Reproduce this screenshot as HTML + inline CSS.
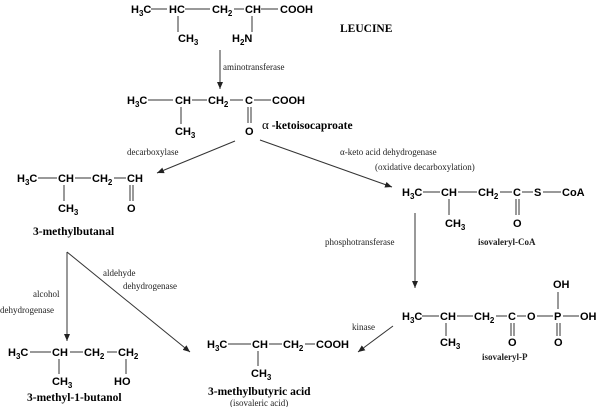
<!DOCTYPE html>
<html><head><meta charset="utf-8"><style>
html,body{margin:0;padding:0;background:#fff;}
svg{display:block;}
.c{font-family:"Liberation Sans",sans-serif;font-weight:bold;font-size:11px;fill:#000;}
.l{font-family:"Liberation Serif",serif;font-size:9px;fill:#222;}
.n{font-family:"Liberation Serif",serif;font-weight:bold;font-size:11.5px;fill:#000;}
line{stroke:#333;stroke-width:1;}
</style></head><body>
<svg width="600" height="407" viewBox="0 0 600 407" xmlns="http://www.w3.org/2000/svg">
<defs><marker id="a" markerWidth="8" markerHeight="8" refX="7" refY="4" orient="auto" markerUnits="userSpaceOnUse"><path d="M0,1 L7,4 L0,7 Z" fill="#222"/></marker></defs>

<text class="c" x="131" y="13">H<tspan font-size="8" dy="3">3</tspan><tspan dy="-3">C</tspan></text>
<line x1="151" y1="9" x2="167" y2="9"/>
<text class="c" x="169" y="13">HC</text>
<line x1="185" y1="9" x2="210" y2="9"/>
<text class="c" x="212" y="13">CH<tspan font-size="8" dy="3">2</tspan></text>
<line x1="234" y1="9" x2="244" y2="9"/>
<text class="c" x="245" y="13">CH</text>
<line x1="261" y1="9" x2="278" y2="9"/>
<text class="c" x="280" y="13">COOH</text>
<line x1="178" y1="16" x2="178" y2="32"/>
<text class="c" x="178" y="42">CH<tspan font-size="8" dy="3">3</tspan></text>
<line x1="252" y1="16" x2="252" y2="32"/>
<text class="c" x="232" y="42">H<tspan font-size="8" dy="3">2</tspan><tspan dy="-3">N</tspan></text>
<text class="n" x="340" y="32">LEUCINE</text>

<line x1="220" y1="50" x2="220" y2="89" marker-end="url(#a)"/>
<text class="l" x="223" y="70">aminotransferase</text>

<text class="c" x="127" y="104">H<tspan font-size="8" dy="3">3</tspan><tspan dy="-3">C</tspan></text>
<line x1="148" y1="100" x2="173" y2="100"/>
<text class="c" x="175" y="104">CH</text>
<line x1="192" y1="100" x2="207" y2="100"/>
<text class="c" x="208" y="104">CH<tspan font-size="8" dy="3">2</tspan></text>
<line x1="230" y1="100" x2="243" y2="100"/>
<text class="c" x="245" y="104">C</text>
<line x1="254" y1="100" x2="271" y2="100"/>
<text class="c" x="272" y="104">COOH</text>
<line x1="181" y1="107" x2="181" y2="124"/>
<text class="c" x="175" y="135">CH<tspan font-size="8" dy="3">3</tspan></text>
<line x1="248" y1="107" x2="248" y2="123"/><line x1="251" y1="107" x2="251" y2="123"/>
<text class="c" x="245" y="135">O</text>
<text class="n" x="262" y="129" font-size="11"><tspan font-family="Liberation Serif" font-weight="normal" font-size="13">α</tspan> -ketoisocaproate</text>

<line x1="235" y1="141" x2="157" y2="173" marker-end="url(#a)"/>
<text class="l" x="127" y="155">decarboxylase</text>
<line x1="260" y1="140" x2="392" y2="187" marker-end="url(#a)"/>
<text class="l" x="340" y="155">α-keto acid dehydrogenase</text>
<text class="l" x="375" y="170">(oxidative decarboxylation)</text>

<text class="c" x="17" y="182">H<tspan font-size="8" dy="3">3</tspan><tspan dy="-3">C</tspan></text>
<line x1="38" y1="178" x2="57" y2="178"/>
<text class="c" x="58" y="182">CH</text>
<line x1="75" y1="178" x2="91" y2="178"/>
<text class="c" x="92" y="182">CH<tspan font-size="8" dy="3">2</tspan></text>
<line x1="114" y1="178" x2="126" y2="178"/>
<text class="c" x="127" y="182">CH</text>
<line x1="64" y1="185" x2="64" y2="201"/>
<text class="c" x="58" y="212">CH<tspan font-size="8" dy="3">3</tspan></text>
<line x1="130" y1="185" x2="130" y2="201"/><line x1="133" y1="185" x2="133" y2="201"/>
<text class="c" x="127" y="212">O</text>
<text class="n" x="33" y="235">3-methylbutanal</text>

<text class="c" x="402" y="196">H<tspan font-size="8" dy="3">3</tspan><tspan dy="-3">C</tspan></text>
<line x1="423" y1="192" x2="440" y2="192"/>
<text class="c" x="441" y="196">CH</text>
<line x1="458" y1="192" x2="477" y2="192"/>
<text class="c" x="478" y="196">CH<tspan font-size="8" dy="3">2</tspan></text>
<line x1="500" y1="192" x2="512" y2="192"/>
<text class="c" x="513" y="196">C</text>
<line x1="522" y1="192" x2="533" y2="192"/>
<text class="c" x="534" y="196">S</text>
<line x1="543" y1="192" x2="561" y2="192"/>
<text class="c" x="562" y="196">CoA</text>
<line x1="449" y1="199" x2="449" y2="215"/>
<text class="c" x="445" y="227">CH<tspan font-size="8" dy="3">3</tspan></text>
<line x1="516" y1="199" x2="516" y2="215"/><line x1="519" y1="199" x2="519" y2="215"/>
<text class="c" x="513" y="227">O</text>
<text class="l" x="478" y="245" font-size="10" font-weight="bold">isovaleryl-CoA</text>

<line x1="415" y1="213" x2="415" y2="288" marker-end="url(#a)"/>
<text class="l" x="325" y="245">phosphotransferase</text>

<text class="c" x="402" y="320">H<tspan font-size="8" dy="3">3</tspan><tspan dy="-3">C</tspan></text>
<line x1="422" y1="316" x2="439" y2="316"/>
<text class="c" x="440" y="320">CH</text>
<line x1="457" y1="316" x2="473" y2="316"/>
<text class="c" x="474" y="320">CH<tspan font-size="8" dy="3">2</tspan></text>
<line x1="496" y1="316" x2="507" y2="316"/>
<text class="c" x="508" y="320">C</text>
<line x1="517" y1="316" x2="526" y2="316"/>
<text class="c" x="527" y="320">O</text>
<line x1="537" y1="316" x2="553" y2="316"/>
<text class="c" x="554" y="320">P</text>
<line x1="563" y1="316" x2="579" y2="316"/>
<text class="c" x="580" y="320">OH</text>
<line x1="558" y1="292" x2="558" y2="309"/>
<text class="c" x="553" y="288">OH</text>
<line x1="446" y1="323" x2="446" y2="336"/>
<text class="c" x="440" y="346">CH<tspan font-size="8" dy="3">3</tspan></text>
<line x1="511" y1="323" x2="511" y2="336"/><line x1="514" y1="323" x2="514" y2="336"/>
<text class="c" x="508" y="346">O</text>
<line x1="557" y1="323" x2="557" y2="336"/><line x1="560" y1="323" x2="560" y2="336"/>
<text class="c" x="554" y="346">O</text>
<text class="l" x="482" y="360" font-size="10" font-weight="bold">isovaleryl-P</text>

<line x1="393" y1="326" x2="358" y2="352" marker-end="url(#a)"/>
<text class="l" x="352" y="330">kinase</text>

<text class="c" x="207" y="348">H<tspan font-size="8" dy="3">3</tspan><tspan dy="-3">C</tspan></text>
<line x1="228" y1="344" x2="251" y2="344"/>
<text class="c" x="252" y="348">CH</text>
<line x1="269" y1="344" x2="282" y2="344"/>
<text class="c" x="283" y="348">CH<tspan font-size="8" dy="3">2</tspan></text>
<line x1="305" y1="344" x2="315" y2="344"/>
<text class="c" x="316" y="348">COOH</text>
<line x1="258" y1="351" x2="258" y2="366"/>
<text class="c" x="251" y="377">CH<tspan font-size="8" dy="3">3</tspan></text>
<text class="n" x="208" y="395">3-methylbutyric acid</text>
<text class="l" x="230" y="406" font-size="9.5">(isovaleric acid)</text>

<line x1="67" y1="252" x2="67" y2="341" marker-end="url(#a)"/>
<line x1="67" y1="252" x2="190" y2="352" marker-end="url(#a)"/>
<text class="l" x="103" y="276">aldehyde</text>
<text class="l" x="123" y="289">dehydrogenase</text>
<text class="l" x="33" y="297">alcohol</text>
<text class="l" x="0" y="313">dehydrogenase</text>

<text class="c" x="8" y="356">H<tspan font-size="8" dy="3">3</tspan><tspan dy="-3">C</tspan></text>
<line x1="30" y1="352" x2="51" y2="352"/>
<text class="c" x="52" y="356">CH</text>
<line x1="70" y1="352" x2="83" y2="352"/>
<text class="c" x="84" y="356">CH<tspan font-size="8" dy="3">2</tspan></text>
<line x1="107" y1="352" x2="117" y2="352"/>
<text class="c" x="118" y="356">CH<tspan font-size="8" dy="3">2</tspan></text>
<line x1="59" y1="359" x2="59" y2="374"/>
<text class="c" x="52" y="385">CH<tspan font-size="8" dy="3">3</tspan></text>
<line x1="126" y1="359" x2="126" y2="374"/>
<text class="c" x="114" y="385">HO</text>
<text class="n" x="27" y="401">3-methyl-1-butanol</text>
</svg>
</body></html>
